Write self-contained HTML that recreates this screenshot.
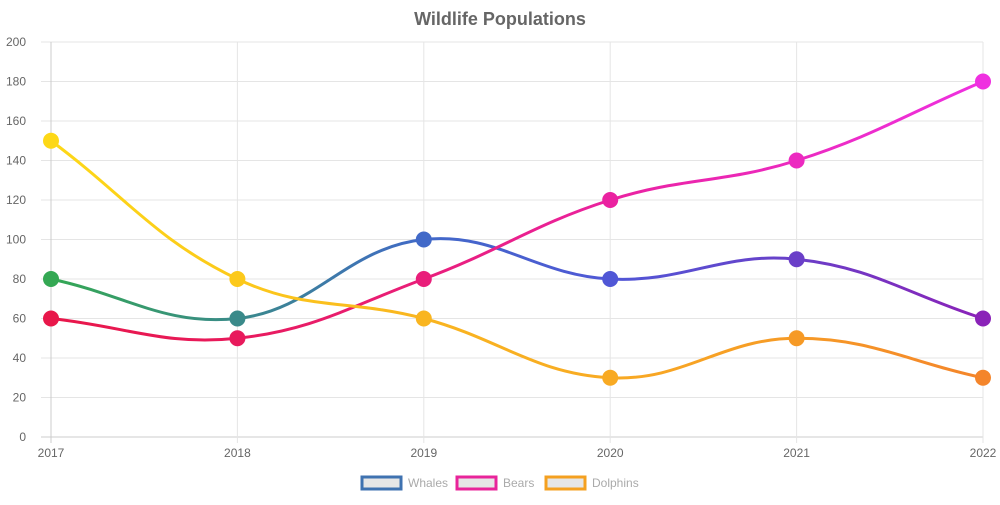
<!DOCTYPE html>
<html><head><meta charset="utf-8"><style>
body{margin:0;background:#fff;width:1000px;height:500px;overflow:hidden}
text{font-family:"Liberation Sans",Arial,sans-serif}
</style></head><body>
<svg id="c" width="1000" height="500">
<defs id="defs"></defs>
<text x="500" y="25" text-anchor="middle" font-size="18" font-weight="bold" fill="#666">Wildlife Populations</text>
<g id="grid"></g><g id="series"></g><g id="legend"></g>
</svg>
<script>
const categories=["2017","2018","2019","2020","2021","2022"];
const whales=[80,60,100,80,90,60];
const bears=[60,50,80,120,140,180];
const dolphins=[150,80,60,30,50,30];
const yTicks=[0,20,40,60,80,100,120,140,160,180,200];
const seriesNames=["Whales","Bears","Dolphins"];
const NS="http://www.w3.org/2000/svg";
const X0=51,X1=983,Y0=437,Y1=42;
const xs=i=>X0+(X1-X0)*i/(categories.length-1);
const ys=v=>Y0-(Y0-Y1)*v/200;
function mk(t,a,p){const e=document.createElementNS(NS,t);for(const k in a)e.setAttribute(k,a[k]);p.appendChild(e);return e;}
const grid=document.getElementById('grid');
yTicks.forEach(v=>{const y=ys(v);
 const l=mk('line',{x1:41,x2:X1,y1:y,y2:y,stroke:v===0?'#ccc':'#e5e5e5','stroke-width':1},grid);
 
 const t=mk('text',{x:26,y:y+4,'text-anchor':'end','font-size':12,fill:'#666'},grid);t.textContent=v;
 });
categories.forEach((c,i)=>{const x=xs(i);
 const l=mk('line',{x1:x,x2:x,y1:Y1,y2:Y0+6,stroke:i===0?'#ccc':'#e5e5e5','stroke-width':1},grid);
 
 const t=mk('text',{x:x,y:457,'text-anchor':'middle','font-size':12,fill:'#666'},grid);t.textContent=c;
 });
const palettes=[
 ["#34a853","#3a8a8a","#4169c8","#5057d6","#6a3fc8","#8a22b8"],
 ["#e8174a","#e81a5c","#e91e7a","#ea22a0","#ec2ac0","#ef30e0"],
 ["#fdd817","#fcc91b","#f9b520","#f8aa23","#f69a26","#f4852b"]];
const legendCols=["#3f72b0","#e8249a","#f4a020"];
const defs=document.getElementById('defs');
const sg=document.getElementById('series');
[whales,bears,dolphins].forEach((data,si)=>{
 const g=mk('linearGradient',{id:'g'+si,gradientUnits:'userSpaceOnUse',x1:X0,x2:X1,y1:0,y2:0},defs);
 palettes[si].forEach((c,i)=>mk('stop',{offset:i/5,'stop-color':c},g));
 const P=data.map((v,i)=>({x:xs(i),y:ys(v)}));
 const cps=P.map((c,i)=>{const p=P[i-1]||c,n=P[i+1]||c;
  const d01=Math.hypot(c.x-p.x,c.y-p.y),d12=Math.hypot(n.x-c.x,n.y-c.y);
  const s=d01+d12||1,fa=0.4*d01/s,fb=0.4*d12/s;
  return {a:{x:c.x-fa*(n.x-p.x),y:c.y-fa*(n.y-p.y)},b:{x:c.x+fb*(n.x-p.x),y:c.y+fb*(n.y-p.y)}};});
 let d='M'+P[0].x+','+P[0].y;
 for(let i=1;i<P.length;i++)d+=` C${cps[i-1].b.x},${cps[i-1].b.y} ${cps[i].a.x},${cps[i].a.y} ${P[i].x},${P[i].y}`;
 const path=mk('path',{d:d,fill:'none',stroke:'url(#g'+si+')','stroke-width':3},sg);
 
 P.forEach((p,i)=>{const c=mk('circle',{cx:p.x,cy:p.y,r:8,fill:palettes[si][i]},sg);
  });
});
const lg=document.getElementById('legend');
const lx=[362,457,546];
seriesNames.forEach((n,i)=>{
 const r=mk('rect',{x:lx[i],y:477,width:39,height:12,fill:'#e6e6e6',stroke:legendCols[i],'stroke-width':3},lg);
 
 const t=mk('text',{x:lx[i]+46,y:487,'font-size':12,fill:'#aaa'},lg);t.textContent=n;
 
});
</script>
</body></html>
